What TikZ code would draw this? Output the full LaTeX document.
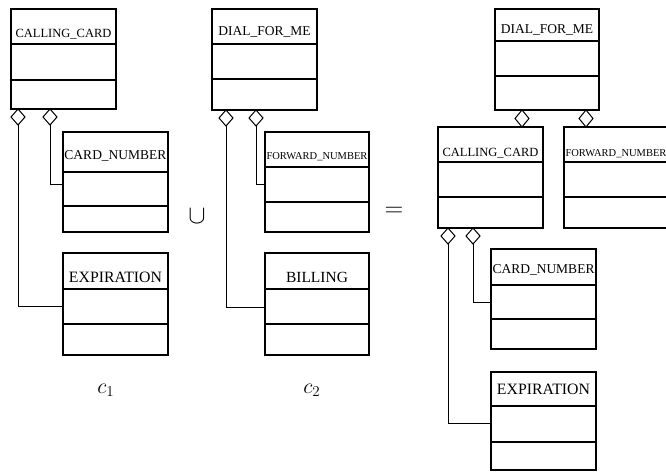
\documentclass[tikz,border=0pt]{standalone}
\usepackage{fontspec}
\setmainfont{Liberation Serif}
\usetikzlibrary{shapes.geometric}

% class box: #1 name, #2 left, #3 top, #4 width, #5 height,
% #6 and #7 the two compartment dividers, measured from the top
\newcommand\umlclass[7]{%
  \node[umlbox, minimum width=#4pt, minimum height=#5pt] (#1) at (#2,#3) {};
  \draw[part] ([yshift=-#6pt]#1.north west) -- ([yshift=-#6pt]#1.north east);
  \draw[part] ([yshift=-#7pt]#1.north west) -- ([yshift=-#7pt]#1.north east);
}
% class name: #1 box, #2 baseline below the top, #3 size, #4 text
\newcommand\umlname[4]{%
  \node[anchor=base, inner sep=0pt, font=\fontsize{#3}{#3}\selectfont]
    (#1-name) at ([yshift=-#2pt]#1.north) {#4};
}

\begin{document}
\begin{tikzpicture}[x=1pt, y=-1pt,
  umlbox/.style={draw, line width=1.1pt, inner sep=0pt, outer sep=0pt, anchor=north west},
  part/.style={line width=1.1pt},
  agg/.style={draw, diamond, fill=white, line width=1pt, inner sep=0pt, outer sep=0pt,
    minimum width=14pt, minimum height=16pt, anchor=north},
  link/.style={line width=1pt},
  op/.style={inner sep=0pt, scale=1.25, font=\fontsize{22}{24}\selectfont},
  cname/.style={anchor=base west, inner sep=0pt, scale=1.25, font=\fontsize{17}{20}\selectfont}]
\useasboundingbox (0,0) rectangle (666,472);
\clip (0,0) rectangle (666,472);

% ---- c1 ----
\umlclass{cc1}{11}{9}{105}{100}{35}{71}
\umlname{cc1}{28}{12.5}{CALLING\_CARD}
\umlclass{cn1}{63}{132}{105}{100}{40}{74}
\umlname{cn1}{27}{13.5}{CARD\_NUMBER}
\umlclass{ex1}{63}{253}{105}{102}{36}{71}
\umlname{ex1}{29}{15.8}{EXPIRATION}
\node[agg] (cc1-a) at (18,109) {};
\node[agg] (cc1-b) at (50,109) {};
\draw[link] (cc1-b.south) |- (cn1.west |- 0,184);
\draw[link] (cc1-a.south) |- (ex1.west |- 0,306);
\node[cname] (c1) at (97,393) {$c_1$};

\node[op] (cup) at (197,216) {$\cup$};

% ---- c2 ----
\umlclass{df2}{212}{9}{105}{101}{35}{70}
\umlname{df2}{26}{13.5}{DIAL\_FOR\_ME}
\umlclass{fn2}{265}{132}{104}{100}{35}{70}
\umlname{fn2}{27}{10.5}{FORWARD\_NUMBER}
\umlclass{bi2}{265}{253}{104}{102}{36}{71}
\umlname{bi2}{29}{15.5}{BILLING}
\node[agg] (df2-a) at (226,110) {};
\node[agg] (df2-b) at (256,110) {};
\draw[link] (df2-b.south) |- (fn2.west |- 0,184);
\draw[link] (df2-a.south) |- (bi2.west |- 0,307);
\node[cname] (c2) at (303,393) {$c_2$};

\node[op] (eq) at (394,212) {$=$};

% ---- union ----
\umlclass{df3}{495}{9}{104}{101}{32}{67}
\umlname{df3}{24}{13.5}{DIAL\_FOR\_ME}
\umlclass{cc3}{438}{127}{105}{101}{35}{70}
\umlname{cc3}{29}{12.5}{CALLING\_CARD}
\umlclass{fn3}{564}{127}{104}{101}{35}{70}
\umlname{fn3}{29}{10.5}{FORWARD\_NUMBER}
\node[agg, minimum height=17pt] (df3-a) at (522,110) {};
\node[agg, minimum height=17pt] (df3-b) at (586,110) {};
\umlclass{cn3}{491}{249}{105}{100}{36}{70}
\umlname{cn3}{24}{13.5}{CARD\_NUMBER}
\umlclass{ex3}{491}{372}{105}{98}{34}{70}
\umlname{ex3}{22}{15.8}{EXPIRATION}
\node[agg] (cc3-a) at (448,228) {};
\node[agg] (cc3-b) at (473,228) {};
\draw[link] (cc3-b.south) |- (cn3.west |- 0,302);
\draw[link] (cc3-a.south) |- (ex3.west |- 0,423);
\end{tikzpicture}
\end{document}
